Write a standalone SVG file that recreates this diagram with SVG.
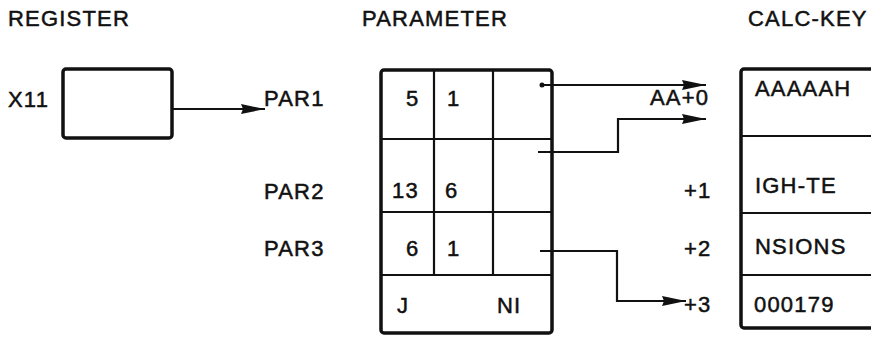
<svg xmlns="http://www.w3.org/2000/svg" width="871" height="337" viewBox="0 0 871 337">
<defs>
<style>
text{font-family:"Liberation Sans",Arial,sans-serif;font-size:22px;fill:#111;stroke:#111;stroke-width:0.5;letter-spacing:1.2px}
.box{fill:none;stroke:#111;stroke-width:3.5;stroke-linejoin:round}
.in{stroke:#111;stroke-width:2.2;fill:none}
.con{stroke:#111;stroke-width:2.2;fill:none}
</style>
<marker id="ah" markerUnits="userSpaceOnUse" markerWidth="26" markerHeight="12" refX="24" refY="5.5" orient="auto">
<path d="M0,0.5 L24,5.5 L0,10.5 L2,5.5 z" fill="#111"/>
</marker>
</defs>
<rect width="871" height="337" fill="#fff"/>
<g id="headers">
<text x="8" y="26">REGISTER</text>
<text x="362" y="26">PARAMETER</text>
<text x="748" y="26">CALC-KEY</text>
</g>
<g id="register">
<text x="8" y="107">X11</text>
<rect class="box" x="63" y="69" width="109" height="69" rx="3"/>
</g>
<g id="par-labels">
<text x="264" y="106">PAR1</text>
<text x="264" y="199">PAR2</text>
<text x="264" y="256">PAR3</text>
</g>
<g id="parameter">
<rect class="box" x="381" y="70" width="171" height="263" rx="3"/>
<line class="in" x1="434" y1="70" x2="434" y2="275"/>
<line class="in" x1="493" y1="70" x2="493" y2="275"/>
<line class="in" x1="381" y1="139" x2="552" y2="139"/>
<line class="in" x1="381" y1="212" x2="552" y2="212"/>
<line class="in" x1="381" y1="275" x2="552" y2="275"/>
<text x="406" y="106">5</text>
<text x="447" y="106">1</text>
<text x="392" y="198">13</text>
<text x="445" y="198">6</text>
<text x="406" y="256">6</text>
<text x="447" y="256">1</text>
<text x="397" y="313">J</text>
<text x="497" y="313">NI</text>
</g>
<g id="offsets">
<text x="650" y="105">AA+0</text>
<text x="684" y="198">+1</text>
<text x="684" y="256">+2</text>
<text x="684" y="312">+3</text>
</g>
<g id="calc-key">
<rect class="box" x="741" y="69" width="160" height="259" rx="3"/>
<line class="in" x1="741" y1="136" x2="871" y2="136"/>
<line class="in" x1="741" y1="213" x2="871" y2="213"/>
<line class="in" x1="741" y1="275" x2="871" y2="275"/>
<text x="755" y="96">AAAAAH</text>
<text x="755" y="193">IGH-TE</text>
<text x="755" y="254">NSIONS</text>
<text x="754" y="312">000179</text>
</g>
<g id="connectors">
<line class="con" x1="172" y1="109" x2="265" y2="109" marker-end="url(#ah)"/>
<circle cx="542" cy="85" r="2.5" fill="#111"/>
<line class="con" x1="542" y1="85" x2="706" y2="85" marker-end="url(#ah)"/>
<polyline class="con" points="538,152 618,152 618,119 706,119" marker-end="url(#ah)"/>
<polyline class="con" points="540,251 617,251 617,301 686,301" marker-end="url(#ah)"/>
</g>
</svg>
